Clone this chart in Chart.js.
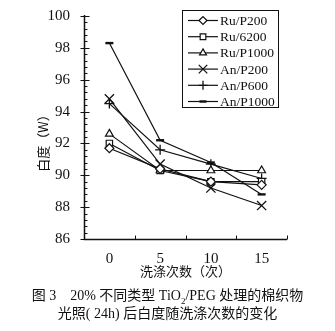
<!DOCTYPE html>
<html lang="zh">
<head>
<meta charset="UTF-8">
<title>白度随洗涤次数的变化</title>
<script src="https://cdn.jsdelivr.net/npm/chart.js"></script>
<style>
  body { margin: 0; background: #fff; }
  #wrap { position: relative; width: 335px; height: 331px; }
  .cap {
    position: absolute; left: 0; width: 335px; text-align: center;
    font-family: "Liberation Serif", "Noto Sans CJK SC", serif;
    font-size: 14px; color: #111; white-space: nowrap;
  }
  .cap sub { font-size: 9px; }
</style>
</head>
<body>
<div id="wrap">
  <canvas id="chart" width="335" height="285"></canvas>
  <div class="cap" style="top:284px">图 3　20% 不同类型 TiO<sub>2</sub>/PEG 处理的棉织物</div>
  <div class="cap" style="top:302px">光照( 24h) 后白度随洗涤次数的变化</div>
</div>
<script>
// 洗涤次数
const washes = [0, 5, 10, 15];

// 各处理的白度 (W)
const ruP200  = [91.7, 90.4, 89.6, 89.4];
const ru6200  = [92.0, 90.3, 89.6, 89.6];
const ruP1000 = [92.6, 90.3, 90.3, 90.3];
const anP200  = [94.8, 90.7, 89.2, 88.1];
const anP600  = [94.5, 91.6, 90.7, 89.8];
const anP1000 = [98.3, 92.2, 90.8, 88.8];

const seriesNames = ["Ru/P200", "Ru/6200", "Ru/P1000", "An/P200", "An/P600", "An/P1000"];
const seriesValues = [ruP200, ru6200, ruP1000, anP200, anP600, anP1000];

// 坐标轴
const yMin = 86, yMax = 100, yStep = 2, yMinorStep = 0.4;
const xMin = -2.5, xMax = 17.5;
const xTickValues = [0, 5, 10, 15];
const xMarkValues = [2.5, 7.5, 12.5, 17.5];

// 点样式
const markers = [
  { pointStyle: "rectRot", radius: 4.5, borderWidth: 1.2 },
  { pointStyle: "rect", radius: 4.5, borderWidth: 1.2 },
  { pointStyle: "triangle", radius: 4.5, borderWidth: 1.2 },
  { pointStyle: "crossRot", radius: 6.5, borderWidth: 1.3 },
  { pointStyle: "cross", radius: 5, borderWidth: 1.3 },
  { pointStyle: "line", radius: 4, borderWidth: 2.4 }
];

const serif = "'Liberation Serif', 'Times New Roman', serif";
const cjk = "'Noto Sans CJK SC', sans-serif";
const ink = "#111";

const datasets = seriesNames.map((name, i) => ({
  label: name,
  data: washes.map((w, j) => ({ x: w, y: seriesValues[i][j] })),
  borderColor: ink,
  borderWidth: 1.2,
  pointStyle: markers[i].pointStyle,
  pointRadius: markers[i].radius,
  pointBorderWidth: markers[i].borderWidth,
  pointBackgroundColor: "#fff",
  pointBorderColor: ink,
  tension: 0
}));

// 坐标轴线、刻度、纵轴标题和图例
const decorations = {
  id: "decorations",
  afterDraw(chart) {
    const ctx = chart.ctx;
    const xs = chart.scales.x, ys = chart.scales.y;
    const left = Math.round(xs.left) + 0.5;
    const bottom = Math.round(ys.bottom) + 0.5;

    ctx.save();
    ctx.strokeStyle = ink;
    ctx.lineWidth = 1.5;
    ctx.beginPath();
    ctx.moveTo(left, ys.top - 1);
    ctx.lineTo(left, bottom);
    ctx.lineTo(xs.right, bottom);
    ctx.stroke();

    ctx.lineWidth = 1;
    ctx.beginPath();
    for (let v = yMin; v <= yMax + 1e-6; v += yMinorStep) {
      const py = Math.round(ys.getPixelForValue(v)) + 0.5;
      const major = Math.abs(v / yStep - Math.round(v / yStep)) < 1e-6;
      ctx.moveTo(major ? left - 4 : left, py);
      ctx.lineTo(major ? left + 5 : left + 3, py);
    }
    xMarkValues.forEach(v => {
      const px = Math.round(xs.getPixelForValue(v)) + 0.5;
      ctx.moveTo(px, bottom);
      ctx.lineTo(px, bottom - 4);
    });
    ctx.stroke();

    // 纵轴标题
    ctx.fillStyle = ink;
    ctx.font = "13px " + cjk;
    ctx.textAlign = "center";
    ctx.textBaseline = "middle";
    ctx.translate(43, 140);
    ctx.rotate(-Math.PI / 2);
    ctx.fillText("白度（W）", 0, 0);
    ctx.restore();

    // 图例
    ctx.save();
    ctx.strokeStyle = ink;
    ctx.lineWidth = 1;
    ctx.strokeRect(182.5, 10.5, 96, 97);
    ctx.font = "13.5px " + serif;
    ctx.textAlign = "left";
    ctx.textBaseline = "middle";
    chart.data.datasets.forEach((ds, i) => {
      const y = 20.5 + i * 16.2;
      ctx.strokeStyle = ink;
      ctx.lineWidth = 1.2;
      ctx.beginPath();
      ctx.moveTo(188, y);
      ctx.lineTo(218, y);
      ctx.stroke();
      ctx.fillStyle = "#fff";
      ctx.lineWidth = ds.pointBorderWidth;
      Chart.helpers.drawPoint(ctx, {
        pointStyle: ds.pointStyle,
        radius: ds.pointRadius - 0.5,
        borderWidth: ds.pointBorderWidth,
        rotation: 0
      }, 203, y);
      ctx.fillStyle = ink;
      ctx.fillText(ds.label, 220, y + 1);
    });
    ctx.restore();
  }
};

new Chart(document.getElementById("chart"), {
  type: "line",
  data: { datasets },
  options: {
    responsive: false,
    animation: false,
    layout: { padding: { top: 16, right: 48, left: 0, bottom: 0 } },
    plugins: { legend: { display: false }, tooltip: { enabled: false } },
    scales: {
      x: {
        type: "linear",
        min: xMin,
        max: xMax,
        afterBuildTicks: scale => { scale.ticks = xTickValues.map(v => ({ value: v })); },
        afterFit: scale => { scale.height = 46; },
        grid: { display: false },
        border: { display: false },
        ticks: { color: ink, padding: 3, font: { family: serif, size: 15 } },
        title: {
          display: true,
          text: "洗涤次数（次）",
          color: ink,
          font: { family: cjk, size: 13 },
          padding: { top: 0, bottom: 6 }
        }
      },
      y: {
        min: yMin,
        max: yMax,
        afterFit: scale => { scale.width = 84; },
        grid: { display: false },
        border: { display: false },
        ticks: { stepSize: yStep, color: ink, padding: 6, font: { family: serif, size: 15 } }
      }
    }
  },
  plugins: [decorations]
});
</script>
</body>
</html>
